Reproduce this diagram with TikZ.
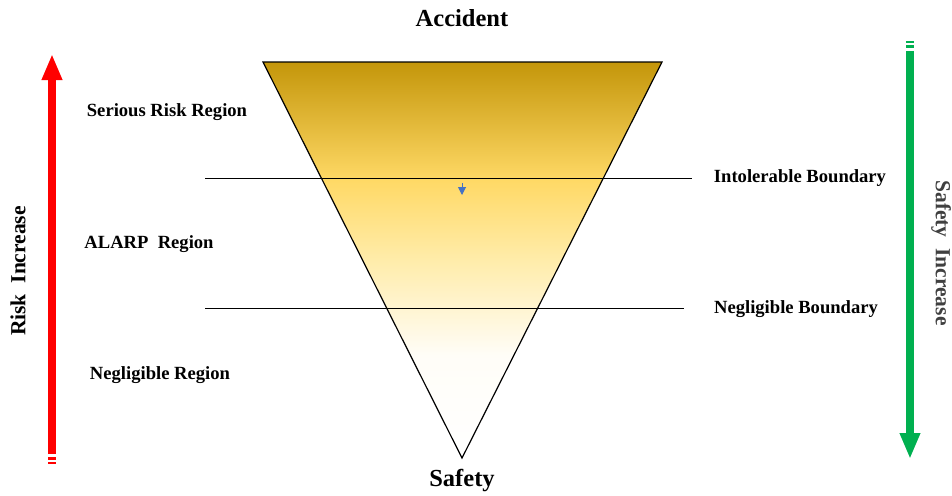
\documentclass[tikz,border=0pt]{standalone}
\usepackage{fontspec}
\setmainfont{Liberation Serif}
\usetikzlibrary{arrows.meta, positioning}
\definecolor{RiskRed}{RGB}{255, 0, 0}
\definecolor{SafeGreen}{RGB}{0, 176, 80}
\definecolor{GoldDark}{RGB}{196, 150, 10}
\definecolor{GoldMid}{RGB}{255, 217, 102}
\definecolor{GoldPale}{RGB}{255, 236, 170}
\definecolor{MarkBlue}{RGB}{68, 114, 196}
\definecolor{TextGray}{RGB}{64, 64, 64}
\pgfdeclareverticalshading{funnel}{100bp}{color(0bp)=(white); color(25bp)=(white); color(38bp)=(white!95!GoldMid); color(50bp)=(GoldPale); color(60bp)=(GoldMid); color(75bp)=(GoldDark); color(100bp)=(GoldDark)}

\begin{document}
\begin{tikzpicture}[
    x=1pt, y=-1pt,
    label/.style={font=\bfseries\fontsize{18.6}{21}\selectfont, inner sep=0pt},
    title/.style={font=\bfseries\fontsize{24.5}{28}\selectfont, inner sep=0pt},
    side/.style={font=\bfseries\fontsize{21.5}{24}\selectfont, inner sep=0pt},
    boundary/.style={line width=1pt, black},
    bigarrow/.style={line width=8.5pt, -{Triangle[length=26pt, width=19pt]}}
]
\useasboundingbox (0,0) rectangle (952,495);

% Funnel
\coordinate (tl) at (263,62);
\coordinate (tr) at (662,62);
\coordinate (tip) at (462,458);
\path[shading=funnel] (tl) -- (tr) -- (tip) -- cycle;
\draw[line width=1.2pt] (tl) -- (tr) -- (tip) -- cycle;

% Boundaries
\coordinate (ib1) at (205,178);
\coordinate (ib2) at (692,178);
\coordinate (nb1) at (205,308);
\coordinate (nb2) at (684,308);
\draw[boundary] (ib1) -- (ib2);
\draw[boundary] (nb1) -- (nb2);

% Small marker
\coordinate (m1) at (462,183);
\coordinate (m2) at (462,195);
\draw[line width=1pt, color=MarkBlue, -{Triangle[length=8pt, width=8pt]}] (m1) -- (m2);

% Titles
\node[title] (acc) at (462,18) {Accident};
\node[title] (safe) at (462,481) {Safety};

% Regions
\node[label] (serious) at (167,112) {Serious Risk Region};
\node[label] (alarp) at (149,244) {ALARP\ \ Region};
\node[label] (negreg) at (160,375) {Negligible Region};
\node[label] (intol) at (800,178) {Intolerable Boundary};
\node[label] (negbd) at (796,309) {Negligible Boundary};

% Risk arrow
\coordinate (r1) at (52,454);
\coordinate (r2) at (52,54);
\draw[bigarrow, RiskRed] (r1) -- (r2);
\fill[RiskRed] (47.75,457) rectangle (56.25,460);
\fill[RiskRed] (47.75,462) rectangle (56.25,464);
\node[side, rotate=90] (risk) at (18,271) {Risk\ \ Increase};

% Safety arrow
\coordinate (s1) at (910,51);
\coordinate (s2) at (910,459);
\draw[bigarrow, SafeGreen] (s1) -- (s2);
\fill[SafeGreen] (905.75,48) rectangle (914.25,45);
\fill[SafeGreen] (905.75,43) rectangle (914.25,41);
\node[side, rotate=-90, TextGray] (safety) at (941,253) {Safety\ \ Increase};

\end{tikzpicture}
\end{document}
